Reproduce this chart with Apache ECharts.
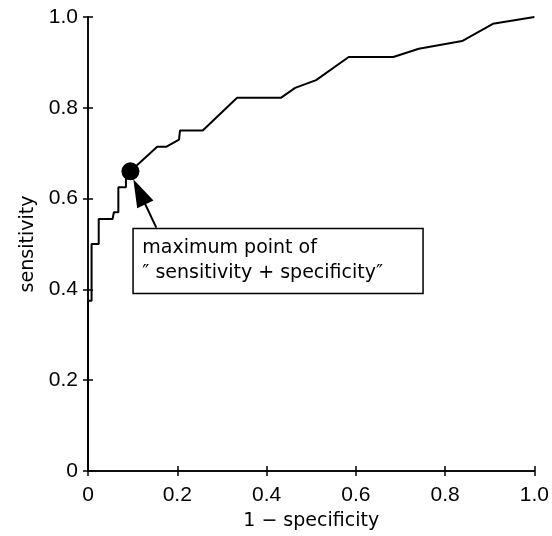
<!DOCTYPE html>
<html>
<head>
<meta charset="utf-8">
<script src="https://cdn.jsdelivr.net/npm/echarts@6/dist/echarts.min.js"></script>
<style>
  html, body { margin: 0; padding: 0; background: #fff; }
  #chart { width: 552px; height: 536px; }
</style>
</head>
<body>
<div id="chart"></div>
<script>
// ROC curve
const fpr = [0, 0, 0.008, 0.008, 0.024, 0.024, 0.055, 0.058, 0.068, 0.068, 0.085, 0.085, 0.095,
  0.155, 0.175, 0.204, 0.206, 0.257, 0.334, 0.432, 0.464, 0.511, 0.584, 0.684, 0.741, 0.838, 0.907, 1.0]
const tpr = [0, 0.375, 0.375, 0.5, 0.5, 0.555, 0.555, 0.57, 0.57, 0.625, 0.625, 0.66, 0.66,
  0.714, 0.714, 0.73, 0.75, 0.75, 0.822, 0.822, 0.844, 0.861, 0.912, 0.912, 0.93, 0.947, 0.985, 1.0]
const tickLabels = ['0', '0.2', '0.4', '0.6', '0.8', '1.0']
const bestPoint = [0.095, 0.66]
// arrow from the note box up to the best point
const arrowFrom = [0.153, 0.536]
const arrowTo = [0.115, 0.615]
const noteLines = ['maximum point of', '\u2033 sensitivity + specificity\u2033']

const chart = echarts.init(document.getElementById('chart'))
const font = '"Liberation Sans", Arial, sans-serif'
const tickFmt = v => tickLabels[Math.round(v / 0.2)]

const axisBase = {
  type: 'value',
  min: 0,
  max: 1,
  interval: 0.2,
  splitLine: { show: false },
  axisLine: { show: true, lineStyle: { color: '#000', width: 1.5 } },
  axisTick: { show: true, inside: true, length: 5, lineStyle: { color: '#000', width: 1.5 } }
}

const options = {
  animation: false,
  grid: { left: 88, right: 13, top: 17, bottom: 64 },
  xAxis: [
    Object.assign({}, axisBase, {
      position: 'bottom',
      name: '1 \u2212 specificity',
      nameLocation: 'middle',
      nameGap: 41,
      nameTextStyle: { color: '#000', fontSize: 19, fontFamily: 'DejaVu Sans' },
      axisLabel: { color: '#000', fontSize: 21, fontFamily: font, margin: 14, formatter: tickFmt }
    }),
    Object.assign({}, axisBase, { position: 'top', axisLabel: { show: false } })
  ],
  yAxis: [
    Object.assign({}, axisBase, {
      position: 'left',
      name: 'sensitivity',
      nameLocation: 'middle',
      nameGap: 46,
      nameTextStyle: { color: '#000', fontSize: 19, fontFamily: 'DejaVu Sans' },
      axisLabel: { color: '#000', fontSize: 21, fontFamily: font, margin: 10, formatter: tickFmt }
    }),
    Object.assign({}, axisBase, { position: 'right', axisLabel: { show: false } })
  ],
  series: [
    {
      type: 'line',
      data: fpr.map((x, i) => [x, tpr[i]]),
      symbol: 'none',
      lineStyle: { color: '#000', width: 2 },
      z: 3
    },
    {
      type: 'scatter',
      data: [bestPoint],
      symbol: 'circle',
      symbolSize: 18,
      itemStyle: { color: '#000', opacity: 1 },
      z: 4,
      markLine: {
        silent: true,
        animation: false,
        label: { show: false },
        lineStyle: { color: '#000', width: 2, type: 'solid' },
        data: [[
          { coord: arrowFrom, symbol: 'none' },
          { coord: arrowTo, symbol: 'path://M0,0 L9,28 L-9,28 Z', symbolSize: [18, 28] }
        ]]
      }
    }
  ]
}
chart.setOption(options)

// note box, hung under the arrow tail
const tail = chart.convertToPixel({ gridIndex: 0 }, arrowFrom)
chart.setOption({
  graphic: [
    {
      type: 'rect',
      left: tail[0] - 24,
      top: tail[1],
      shape: { width: 290, height: 65 },
      style: { fill: '#fff', stroke: '#000', lineWidth: 1.5 },
      z: 10
    },
    {
      type: 'text',
      left: tail[0] - 14,
      top: tail[1] + 8,
      style: {
        text: noteLines.join('\n'),
        fill: '#000',
        font: '19px "DejaVu Sans"',
        lineHeight: 25
      },
      z: 11
    }
  ]
})
</script>
</body>
</html>
